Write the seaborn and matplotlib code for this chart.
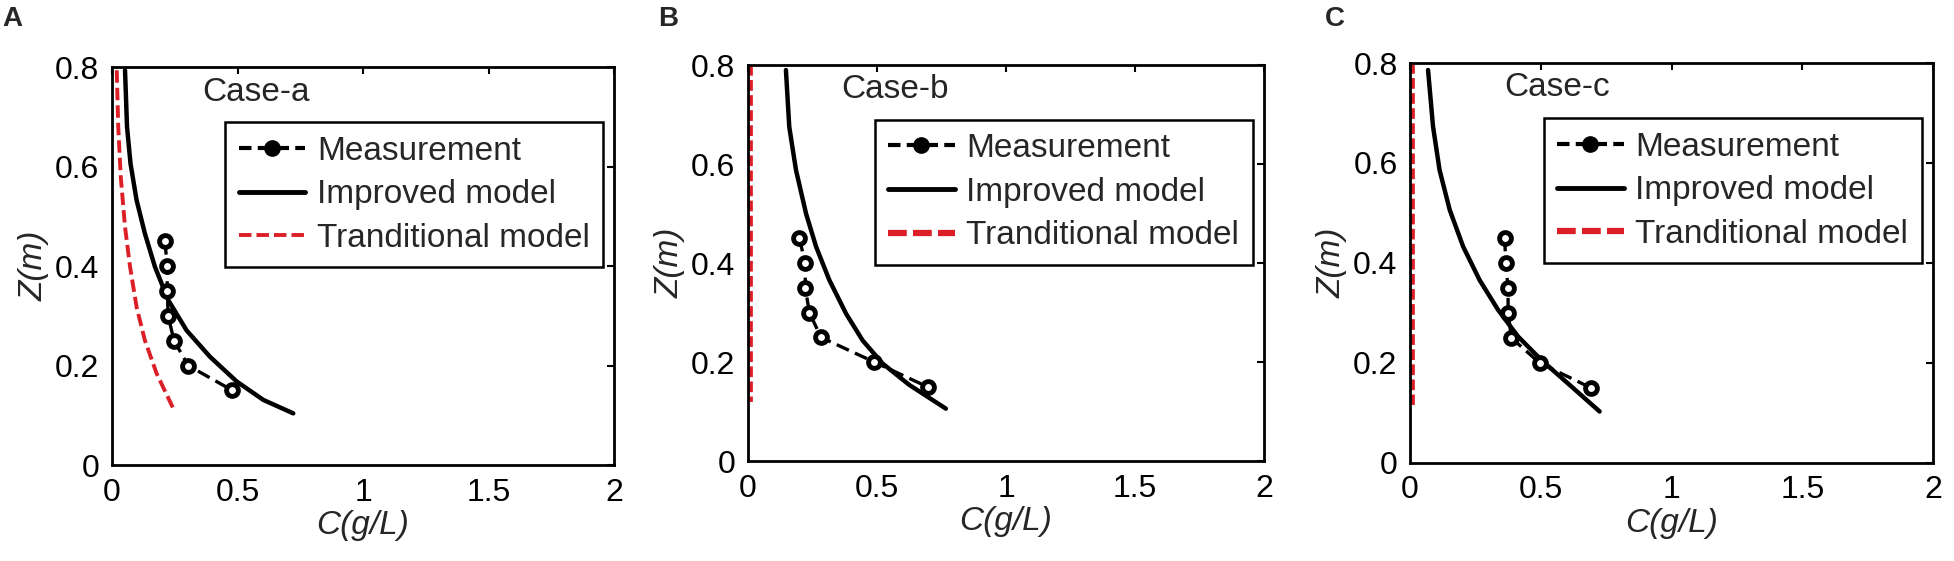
import matplotlib
matplotlib.use('Agg')
from matplotlib import pyplot as plt
from matplotlib.lines import Line2D
import seaborn as sns
import pandas as pd

meas_z = [0.45, 0.40, 0.35, 0.30, 0.25, 0.20, 0.15]
meas_c_a = [0.211, 0.22, 0.22, 0.224, 0.247, 0.304, 0.48]
meas_c_b = [0.199, 0.222, 0.222, 0.238, 0.283, 0.49, 0.696]
meas_c_c = [0.362, 0.366, 0.375, 0.375, 0.388, 0.496, 0.693]

# improved model curves
imp_z_a = [0.794, 0.68, 0.606, 0.533, 0.466, 0.399, 0.332, 0.271, 0.218, 0.168, 0.131, 0.104]
imp_c_a = [0.052, 0.060, 0.074, 0.098, 0.131, 0.171, 0.224, 0.297, 0.39, 0.497, 0.603, 0.722]
imp_z_b = [0.79, 0.675, 0.588, 0.50, 0.433, 0.366, 0.298, 0.244, 0.197, 0.154, 0.106]
imp_c_b = [0.147, 0.16, 0.186, 0.225, 0.264, 0.315, 0.38, 0.444, 0.522, 0.625, 0.767]
imp_z_c = [0.786, 0.673, 0.586, 0.506, 0.433, 0.366, 0.306, 0.253, 0.206, 0.159, 0.103]
imp_c_c = [0.069, 0.088, 0.113, 0.152, 0.203, 0.266, 0.337, 0.413, 0.502, 0.604, 0.725]

# traditional model curves
trad_z_a = [0.794, 0.68, 0.58, 0.479, 0.399, 0.318, 0.251, 0.184, 0.114]
trad_c_a = [0.019, 0.025, 0.035, 0.052, 0.072, 0.098, 0.131, 0.178, 0.244]
trad_z_b = [0.80, 0.12]
trad_c_b = [0.0, 0.0]
trad_z_c = [0.80, 0.116]
trad_c_c = [0.0, 0.0]

panels = [
    ('A', 'Case-a', meas_c_a, imp_c_a, imp_z_a, trad_c_a, trad_z_a),
    ('B', 'Case-b', meas_c_b, imp_c_b, imp_z_b, trad_c_b, trad_z_b),
    ('C', 'Case-c', meas_c_c, imp_c_c, imp_z_c, trad_c_c, trad_z_c),
]
positions = [
    [0.0573, 0.171, 0.257, 0.709],
    [0.3828, 0.178, 0.2641, 0.706],
    [0.7216, 0.1747, 0.2677, 0.713],
]
letter_x = [0.001, 0.3367, 0.678]

sns.set_theme(style='white')
plt.rcParams['font.family'] = ['Liberation Sans', 'DejaVu Sans']
red = '#dc1f26'
fs = 24

fig = plt.figure(figsize=(19.54, 5.61), dpi=100)

for (letter, case, m_c, i_c, i_z, t_c, t_z), pos, lx in zip(panels, positions, letter_x):
    ax = fig.add_axes(pos)
    meas = pd.DataFrame({'C': m_c, 'Z': meas_z})
    imp = pd.DataFrame({'C': i_c, 'Z': i_z})
    trad = pd.DataFrame({'C': t_c, 'Z': t_z})

    if letter == 'A':
        sns.lineplot(data=trad, x='C', y='Z', sort=False, estimator=None, ax=ax,
                     color=red, lw=2.8, zorder=2)
        ax.lines[-1].set_dashes((3.2, 1.3))
        leg_red = Line2D([], [], color=red, lw=2.8, dashes=(3.2, 1.3))
    else:
        # thick line on the left spine, half of it clipped by the axes
        sns.lineplot(data=trad, x='C', y='Z', sort=False, estimator=None, ax=ax,
                     color=red, lw=7, zorder=2)
        ax.lines[-1].set_dashes((1.1, 0.45))
        leg_red = Line2D([], [], color=red, lw=4.5, dashes=(3, 1.0))

    sns.lineplot(data=imp, x='C', y='Z', sort=False, estimator=None, ax=ax,
                 color='black', lw=3.2, zorder=3)
    sns.lineplot(data=meas, x='C', y='Z', sort=False, estimator=None, ax=ax,
                 color='black', lw=2.4, marker='o', markersize=8.5,
                 markerfacecolor='white', markeredgecolor='black',
                 markeredgewidth=3.5, zorder=4)
    ax.lines[-1].set_dashes((4, 2))

    ax.set_xlim(0, 2)
    ax.set_ylim(0, 0.8)
    ax.set_xticks([0, 0.5, 1, 1.5, 2])
    ax.set_xticklabels(['0', '0.5', '1', '1.5', '2'])
    ax.set_yticks([0, 0.2, 0.4, 0.6, 0.8])
    ax.set_yticklabels(['0', '0.2', '0.4', '0.6', '0.8'])
    ax.tick_params(direction='in', length=5, width=1.5, top=True, right=True,
                   labelsize=23, pad=9, colors='black')
    for sp in ax.spines.values():
        sp.set_color('black')
        sp.set_linewidth(2)
        sp.set_zorder(5)
    ax.set_xlabel('C(g/L)', fontsize=fs, style='italic', labelpad=2)
    ax.set_ylabel('Z(m)', fontsize=fs, style='italic', labelpad=4)

    ax.text(0.36, 0.75, case, fontsize=fs, va='center', ha='left')

    handles = [
        Line2D([], [], color='black', lw=3, dashes=(3, 1.5), marker='o',
               markersize=11, markerfacecolor='black'),
        Line2D([], [], color='black', lw=3.5),
        leg_red,
    ]
    leg = ax.legend(handles, ['Measurement', 'Improved model', 'Tranditional model'],
                    loc='upper right', bbox_to_anchor=(0.978, 0.862), fontsize=fs,
                    frameon=True, fancybox=False, framealpha=1, edgecolor='black',
                    borderpad=0.4, labelspacing=0.38, handlelength=2.0,
                    handletextpad=0.35, borderaxespad=0)
    leg.get_frame().set_linewidth(1.8)
    leg.set_zorder(6)

    fig.text(lx, 0.99, letter, fontsize=20, fontweight='bold', va='top', ha='left')

fig.savefig('out.png', dpi=100, facecolor='white')
